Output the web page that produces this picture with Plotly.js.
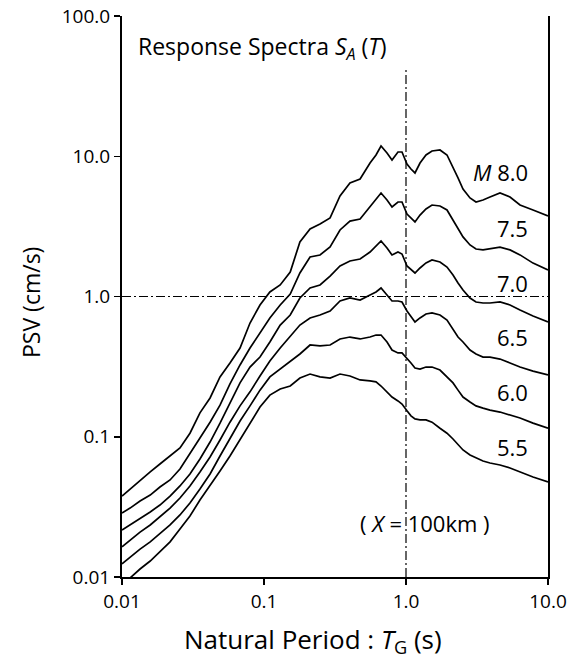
<!DOCTYPE html>
<html>
<head>
<meta charset="utf-8">
<script src="https://cdn.plot.ly/plotly-3.0.1.min.js"></script>
<style>html,body{margin:0;padding:0;background:#fff;}#chart{width:576px;height:662px;}</style>
</head>
<body>
<div id="chart"></div>
<script>
// Natural period T_G (s)
const periods = [0.01, 0.0114, 0.0134, 0.0158, 0.0185, 0.0218, 0.0256, 0.0301, 0.0354, 0.0417,
  0.049, 0.0576, 0.0678, 0.0797, 0.0937, 0.110, 0.130, 0.153, 0.179, 0.211,
  0.248, 0.292, 0.343, 0.403, 0.475, 0.558, 0.615, 0.667, 0.735, 0.797,
  0.878, 0.937, 1.016, 1.084, 1.157, 1.255, 1.383, 1.525, 1.735, 1.944,
  2.143, 2.324, 2.520, 2.823, 3.112, 3.486, 3.904, 4.592, 5.401, 6.352,
  7.843, 10.0];

// PSV (cm/s) for each magnitude
const psvM80 = [0.0378, 0.0424, 0.0492, 0.0561, 0.0639, 0.0729, 0.0831, 0.106, 0.148, 0.189,
  0.267, 0.336, 0.429, 0.647, 0.870, 1.077, 1.208, 1.495, 2.447, 3.03,
  3.29, 3.63, 5.21, 6.45, 6.88, 8.95, 10.21, 11.83, 10.55, 9.40,
  10.72, 10.72, 8.80, 8.11, 7.60, 8.95, 10.21, 10.90, 11.08, 10.21,
  8.38, 7.00, 5.84, 5.04, 4.72, 4.88, 5.12, 5.47, 5.12, 4.49,
  4.14, 3.75];
const psvM75 = [0.0286, 0.0310, 0.0348, 0.0384, 0.0438, 0.0492, 0.0589, 0.0753, 0.0980, 0.127,
  0.168, 0.238, 0.325, 0.429, 0.549, 0.703, 0.870, 1.042, 1.471, 1.912,
  1.977, 2.254, 2.98, 3.45, 3.57, 4.35, 4.88, 5.47, 4.88, 4.35,
  4.72, 4.72, 3.87, 3.63, 3.40, 3.81, 4.21, 4.49, 4.42, 4.14,
  3.51, 3.08, 2.66, 2.33, 2.18, 2.15, 2.18, 2.25, 2.15, 1.98,
  1.73, 1.545];
const psvM70 = [0.0216, 0.0235, 0.0259, 0.0291, 0.0326, 0.0378, 0.0446, 0.0543, 0.0694, 0.0917,
  0.125, 0.174, 0.242, 0.314, 0.370, 0.474, 0.626, 0.738, 0.976, 1.150,
  1.208, 1.400, 1.650, 1.791, 1.850, 2.076, 2.291, 2.487, 2.217, 1.977,
  2.076, 2.009, 1.650, 1.545, 1.471, 1.597, 1.734, 1.820, 1.762, 1.623,
  1.424, 1.249, 1.112, 0.976, 0.914, 0.899, 0.899, 0.914, 0.870, 0.801,
  0.726, 0.658];
const psvM65 = [0.0164, 0.0184, 0.0209, 0.0235, 0.0268, 0.0310, 0.0366, 0.0446, 0.0561, 0.0717,
  0.0948, 0.127, 0.166, 0.209, 0.271, 0.347, 0.429, 0.523, 0.626, 0.703,
  0.738, 0.788, 0.929, 0.976, 0.944, 1.025, 1.077, 1.150, 1.025, 0.929,
  0.929, 0.914, 0.788, 0.714, 0.658, 0.703, 0.750, 0.763, 0.738, 0.680,
  0.577, 0.514, 0.474, 0.415, 0.389, 0.370, 0.370, 0.358, 0.336, 0.314,
  0.294, 0.276];
const psvM60 = [0.0124, 0.0139, 0.0158, 0.0178, 0.0203, 0.0235, 0.0277, 0.0337, 0.0424, 0.0543,
  0.0729, 0.0964, 0.1295, 0.166, 0.215, 0.267, 0.304, 0.341, 0.389, 0.451,
  0.444, 0.451, 0.498, 0.514, 0.498, 0.514, 0.531, 0.531, 0.474, 0.415,
  0.396, 0.396, 0.364, 0.336, 0.309, 0.304, 0.314, 0.314, 0.299, 0.267,
  0.242, 0.215, 0.192, 0.177, 0.166, 0.160, 0.155, 0.150, 0.143, 0.136,
  0.125, 0.115];
const psvM55 = [null, 0.00984, 0.0114, 0.0130, 0.0151, 0.0178, 0.0220, 0.0272, 0.0354, 0.0446,
  0.0570, 0.0729, 0.0948, 0.125, 0.163, 0.198, 0.219, 0.230, 0.262, 0.280,
  0.267, 0.262, 0.280, 0.271, 0.254, 0.250, 0.246, 0.230, 0.208, 0.192,
  0.180, 0.171, 0.153, 0.141, 0.134, 0.132, 0.132, 0.127, 0.115, 0.106,
  0.0964, 0.0888, 0.0805, 0.0741, 0.0706, 0.0672, 0.0650, 0.0629, 0.0599, 0.0561,
  0.0516, 0.0476];

const magnitudes = ['<i>M</i> 8.0', '7.5', '7.0', '6.5', '6.0', '5.5'];
const series = [psvM80, psvM75, psvM70, psvM65, psvM60, psvM55];

const xTickVals = [0.01, 0.1, 1, 10];
const xTickText = ['0.01', '0.1', '1.0', '10.0'];
const yTickVals = [0.01, 0.1, 1, 10, 100];
const yTickText = ['0.01', '0.1', '1.0', '10.0', '100.0'];

// reference lines (T = 1.0 s, PSV = 1.0 cm/s)
const refT = 1.0;
const refPSV = 1.0;
const refVTop = 42.6;

const FONT = '"Open Sans", "Noto Sans", sans-serif';

const traces = series.map((s, i) => ({
  x: periods, y: s, type: 'scatter', mode: 'lines',
  line: {color: '#000', width: 1.7, shape: 'linear'},
  connectgaps: false, hoverinfo: 'skip', name: magnitudes[i]
}));
traces.push({x: [refT, refT], y: [0.01, refVTop], mode: 'lines',
  line: {color: '#000', width: 1.2, dash: '9px,3px,2px,3px'}, hoverinfo: 'skip'});
traces.push({x: [0.01, 10], y: [refPSV, refPSV], mode: 'lines',
  line: {color: '#000', width: 1.2, dash: '9px,3px,2px,3px'}, hoverinfo: 'skip'});

const labelY = [0.7219, 0.6221, 0.5241, 0.4278, 0.3298, 0.2317];
const annotations = magnitudes.map((m, i) => ({
  text: m, xref: 'paper', yref: 'paper', x: 0.958, y: labelY[i],
  xanchor: 'right', yanchor: 'middle', showarrow: false,
  font: {family: FONT, size: 22, color: '#000'}
}));
annotations.push({text: 'Response Spectra <i>S</i><sub><i>A</i></sub> (<i>T</i>)',
  xref: 'paper', yref: 'paper', x: 0.033, y: 0.9447, xanchor: 'left', yanchor: 'middle',
  showarrow: false, font: {family: FONT, size: 23, color: '#000'}});
annotations.push({text: '( <i>X</i> = 100km )',
  xref: 'paper', yref: 'paper', x: 0.711, y: 0.0963, xanchor: 'center', yanchor: 'middle',
  showarrow: false, font: {family: FONT, size: 22, color: '#000'}});
annotations.push({text: 'PSV (cm/s)', textangle: -90,
  xref: 'paper', yref: 'paper', x: -0.2136, y: 0.4884, xanchor: 'center', yanchor: 'middle',
  showarrow: false, font: {family: FONT, size: 23, color: '#000'}});
annotations.push({text: 'Natural Period : <i>T</i><sub>G</sub> (s)',
  xref: 'paper', yref: 'paper', x: 0.448, y: -0.113, xanchor: 'center', yanchor: 'middle',
  showarrow: false, font: {family: FONT, size: 26, color: '#000'}});

const axisCommon = {
  type: 'log', showgrid: false, zeroline: false, showline: true,
  linecolor: '#000', linewidth: 2, ticks: 'outside', ticklen: 6, tickwidth: 1.5,
  tickcolor: '#000', tickfont: {family: FONT, size: 19, color: '#000'}
};

const layout = {
  width: 576, height: 662,
  margin: {l: 122, r: 28, t: 16, b: 85},
  paper_bgcolor: '#fff', plot_bgcolor: '#fff', showlegend: false,
  xaxis: Object.assign({}, axisCommon, {range: [-2, 1], tickvals: xTickVals, ticktext: xTickText, mirror: false}),
  yaxis: Object.assign({}, axisCommon, {range: [-2, 2], tickvals: yTickVals, ticktext: yTickText, mirror: true}),
  annotations: annotations
};

Plotly.newPlot('chart', traces, layout, {staticPlot: true, displayModeBar: false});
</script>
</body>
</html>
